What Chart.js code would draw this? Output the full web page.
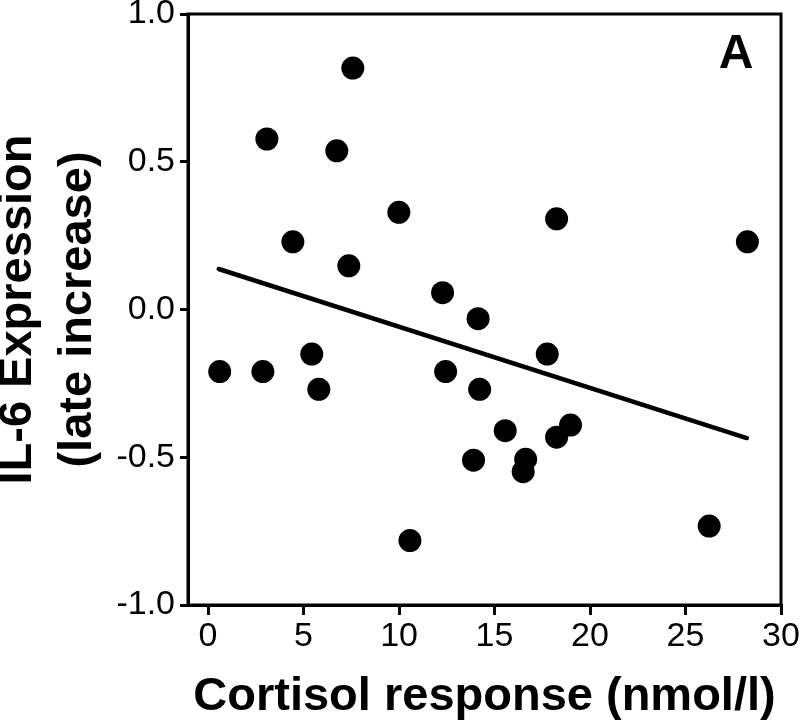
<!DOCTYPE html>
<html>
<head>
<meta charset="utf-8">
<script src="https://cdn.jsdelivr.net/npm/chart.js@4/dist/chart.umd.min.js"></script>
<style>
  html, body { margin: 0; padding: 0; background: #ffffff; }
  #wrap { width: 800px; height: 725px; position: relative; }
</style>
</head>
<body>
<div id="wrap"><canvas id="c"></canvas></div>
<script>
// ---- data ----
const cortisol = [0.61, 2.87, 3.08, 4.44, 5.43, 5.80, 6.74, 7.58, 7.37, 9.99, 10.57, 12.28, 12.44, 14.14, 14.22, 13.90, 15.56, 16.63, 16.50, 17.76, 18.25, 18.25, 18.98, 26.24, 28.24];
const il6 = [-0.21, -0.21, 0.577, 0.229, -0.151, -0.27, 0.537, 0.817, 0.148, 0.329, -0.782, 0.057, -0.21, -0.031, -0.27, -0.51, -0.41, -0.507, -0.549, -0.151, 0.307, -0.432, -0.391, -0.733, 0.229];
const fitX = [0.56, 28.21];
const fitY = [0.137, -0.435];
const xTicks = [0, 5, 10, 15, 20, 25, 30];
const yTicks = [-1.0, -0.5, 0.0, 0.5, 1.0];
const xTitle = 'Cortisol response (nmol/l)';
const yTitle = ['IL-6 Expression', '(late increase)'];
const panelLabel = 'A';

const FONT = "'Liberation Sans', Arial, Helvetica, sans-serif";

const points = cortisol.map((x, i) => ({ x: x, y: il6[i] }));
const fitLine = fitX.map((x, i) => ({ x: x, y: fitY[i] }));

const framePlugin = {
  id: 'frame',
  beforeDatasetsDraw(chart) {
    const { ctx, chartArea: a } = chart;
    ctx.save();
    ctx.strokeStyle = '#000';
    ctx.lineWidth = 3;
    ctx.strokeRect(a.left, a.top, a.right - a.left, a.bottom - a.top);
    ctx.restore();
  },
  afterDraw(chart) {
    const { ctx } = chart;
    const xs = chart.scales.x, ys = chart.scales.y;
    ctx.save();
    ctx.fillStyle = '#000';
    ctx.font = 'bold 48px ' + FONT;
    ctx.textAlign = 'center';
    ctx.textBaseline = 'middle';
    ctx.fillText(panelLabel, xs.getPixelForValue(27.65), ys.getPixelForValue(0.862));
    ctx.restore();
  }
};

new Chart(document.getElementById('c'), {
  type: 'scatter',
  data: {
    datasets: [
      {
        type: 'line',
        data: fitLine,
        borderColor: '#000',
        borderWidth: 4.5,
        pointRadius: 0,
        fill: false,
        borderCapStyle: 'round',
        order: 1
      },
      {
        type: 'scatter',
        data: points,
        backgroundColor: '#000',
        borderWidth: 0,
        pointRadius: 11.5,
        pointHoverRadius: 11.5,
        order: 0
      }
    ]
  },
  options: {
    responsive: true,
    maintainAspectRatio: false,
    animation: false,
    devicePixelRatio: 1,
    layout: { padding: { top: 14, right: 19, left: 0, bottom: 0 } },
    plugins: { legend: { display: false }, tooltip: { enabled: false } },
    scales: {
      x: {
        type: 'linear',
        min: -1.05,
        max: 30,
        afterBuildTicks(scale) { scale.ticks = xTicks.map(v => ({ value: v })); },
        afterFit(scale) {
          scale.height = 120;
          scale.paddingLeft = 0; scale.paddingRight = 0;
        },
        grid: { drawOnChartArea: false, drawTicks: true, tickLength: 10, color: '#000', lineWidth: 3 },
        border: { display: true, color: '#000', width: 3 },
        ticks: {
          color: '#000',
          padding: 1,
          maxRotation: 0,
          autoSkip: false,
          font: { family: FONT, size: 34, lineHeight: 1.2 },
          callback: (v) => String(v)
        },
        title: {
          display: true,
          text: xTitle,
          color: '#000',
          padding: { top: 0, bottom: 0 },
          font: { family: FONT, size: 47, weight: 'bold', lineHeight: 1.2 }
        }
      },
      y: {
        type: 'linear',
        min: -1,
        max: 1,
        afterBuildTicks(scale) { scale.ticks = yTicks.map(v => ({ value: v })); },
        afterFit(scale) {
          scale.width = 188;
          scale.paddingTop = 0; scale.paddingBottom = 0;
        },
        grid: { drawOnChartArea: false, drawTicks: true, tickLength: 8, color: '#000', lineWidth: 3 },
        border: { display: true, color: '#000', width: 3 },
        ticks: {
          color: '#000',
          padding: 5,
          autoSkip: false,
          font: { family: FONT, size: 34, lineHeight: 1.2 },
          callback: (v) => Number(v).toFixed(1)
        },
        title: {
          display: true,
          text: yTitle,
          color: '#000',
          padding: { top: -12, bottom: 0 },
          font: { family: FONT, size: 47, weight: 'bold', lineHeight: 1.277 }
        }
      }
    }
  },
  plugins: [framePlugin]
});
</script>
</body>
</html>
